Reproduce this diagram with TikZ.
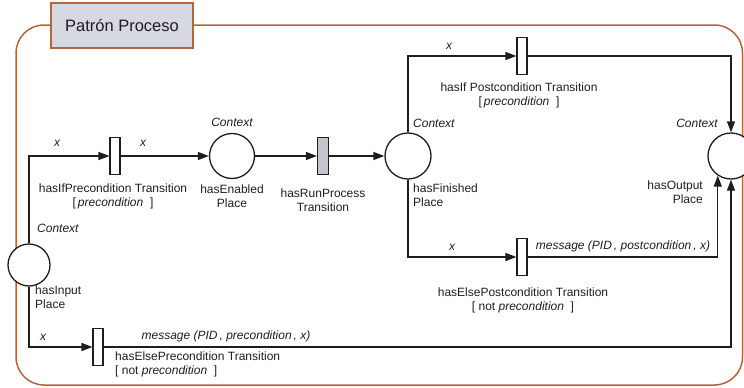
\documentclass[tikz,border=0pt]{standalone}
\usepackage{fontspec}
\setmainfont{Liberation Sans}
\usetikzlibrary{arrows.meta,positioning}
\definecolor{frameOrange}{RGB}{181,101,59}
\definecolor{titleFill}{RGB}{214,217,225}
\definecolor{runFill}{RGB}{197,198,204}
\definecolor{inkDark}{RGB}{30,30,30}

\begin{document}
\begin{tikzpicture}[x=1pt, y=-1pt, >={Triangle[length=11pt,width=8pt]},
  place/.style={circle, draw=inkDark, line width=1.3pt, fill=white, inner sep=0pt},
  trans/.style={rectangle, draw=inkDark, line width=1.1pt, fill=white, inner sep=0pt,
     minimum width=10pt, minimum height=37pt},
  flow/.style={->, line width=1.3pt, draw=inkDark},
  lbl/.style={font=\fontsize{12}{14}\selectfont, text=inkDark, inner sep=0pt, align=center},
  ctx/.style={lbl, font=\fontsize{12}{14}\selectfont\itshape}]
  \path[use as bounding box, clip] (0,0) rectangle (744,388);
  % frame and title
  \draw[frameOrange, line width=1.5pt, rounded corners=28pt] (16,25) rectangle (742.5,385);
  \node[draw=frameOrange, line width=1.5pt, fill=titleFill, minimum width=142pt, minimum height=45pt,
     font=\fontsize{16.5}{18}\selectfont, text=inkDark] (title) at (122,25.5) {Patrón Proceso};
  % places
  \node[place, minimum size=42pt] (in)  at (29,265)  {};
  \node[place, minimum size=45pt] (en)  at (232,156) {};
  \node[place, minimum size=46pt] (fin) at (408,156) {};
  \node[place, minimum size=46pt] (out) at (731,156) {};
  % transitions
  \node[trans] (t1) at (115,156) {};
  \node[trans, fill=runFill, minimum width=11pt] (run) at (323,156) {};
  \node[trans] (t2) at (98,347)  {};
  \node[trans] (t3) at (522,56)  {};
  \node[trans] (t4) at (522,257) {};
  % arcs
  \draw[flow] (in.north) |- (t1.west);
  \draw[flow] (t1) -- (en);
  \draw[flow] (en) -- (run);
  \draw[flow] (run) -- (fin);
  \draw[flow] (fin.north) |- (t3.west);
  \draw[flow] (t3.east) -| (out.north);
  \draw[flow] (fin.south) |- (t4.west);
  \draw[flow] (t4.east) -| (out.-124);
  \draw[flow] (in.south) |- (t2.west);
  \draw[flow] (t2.east) -| (out.south);
  % labels
  \node[ctx] (x1) at (57,143)  {x};
  \node[ctx] (x2) at (143,143) {x};
  \node[ctx] (x3) at (449,46)  {x};
  \node[ctx] (x4) at (452,247) {x};
  \node[ctx] (x5) at (43,337)  {x};
  \node[ctx] (cEn) at (232,122) {Context};
  \node[ctx, anchor=west] (cFin) at (413,123) {Context};
  \node[ctx] (cOut) at (697,123) {Context};
  \node[ctx, anchor=west] (cIn) at (37,228) {Context};
  \node[lbl] (lT1) at (113,196) {hasIfPrecondition Transition\\{[}\,\textit{precondition}\ \ {]}};
  \node[lbl] (lEn) at (232,196) {hasEnabled\\Place};
  \node[lbl] (lRun) at (323,200) {hasRunProcess\\Transition};
  \node[lbl, anchor=west, align=left] (lFin) at (413,195) {hasFinished\\Place};
  \node[lbl] (lT3) at (519,95) {hasIf Postcondition Transition\\{[}\,\textit{precondition}\ \ {]}};
  \node[lbl, anchor=east, align=right] (lOut) at (703,192) {hasOutput\\Place};
  \node[ctx] (mPost) at (623,246) {message (PID\,, postcondition\,,\ x)};
  \node[lbl] (lT4) at (523,300) {hasElsePostcondition Transition\\{[} not \textit{precondition}\ \ {]}};
  \node[lbl, anchor=west, align=left] (lIn) at (35,297) {hasInput\\Place};
  \node[ctx] (mPre) at (226,336) {message (PID\,, precondition\,,\ x)};
  \node[lbl, anchor=west, align=left] (lT2) at (115,364) {hasElsePrecondition Transition\\{[} not \textit{precondition}\ \ {]}};
\end{tikzpicture}
\end{document}
